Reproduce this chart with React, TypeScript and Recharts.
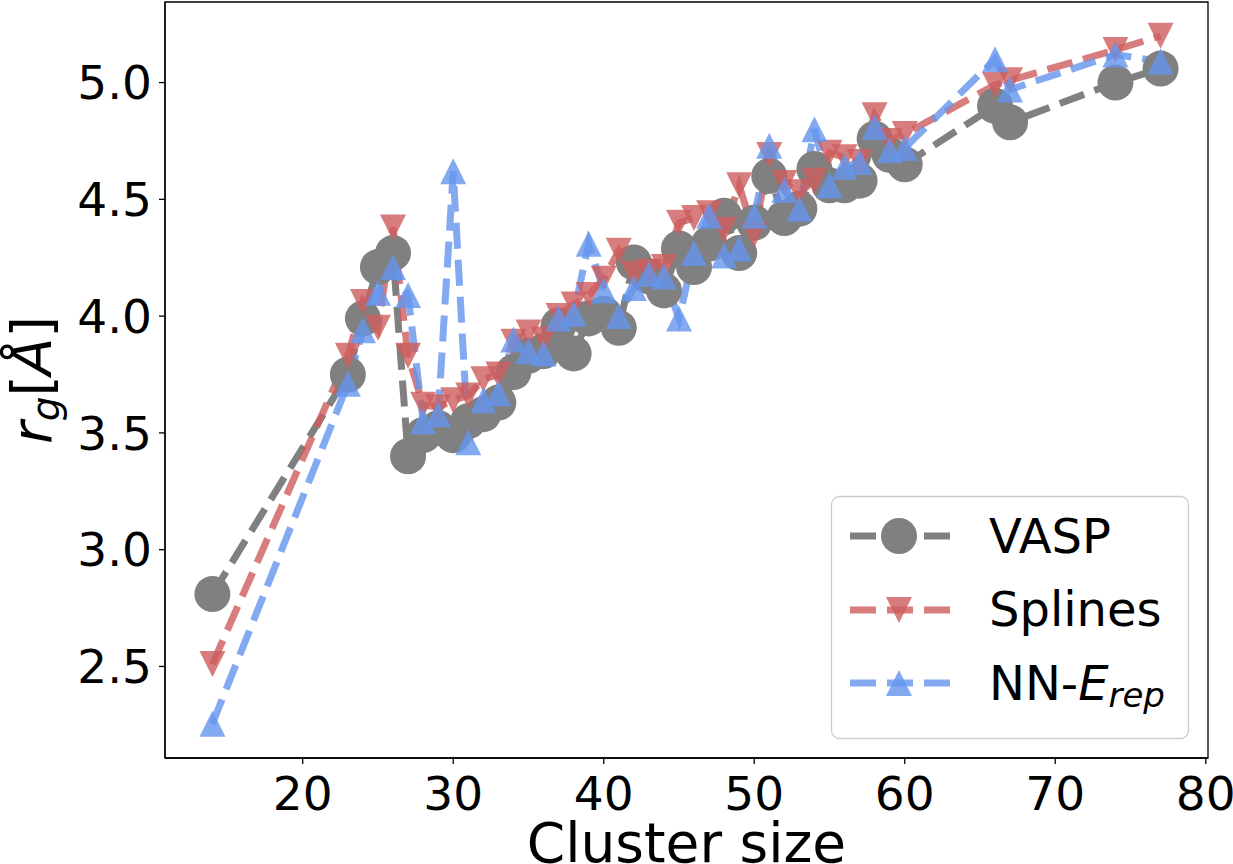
import React from 'react';
import { LineChart, Line, XAxis, YAxis, Legend, ReferenceArea, Label } from 'recharts';

const clusterSizes = [14, 23, 24, 25, 26, 27, 28, 29, 30, 31, 32, 33, 34, 35, 36, 37, 38, 39, 40, 41, 42, 43, 44, 45, 46, 47, 48, 49, 50, 51, 52, 53, 54, 55, 56, 57, 58, 59, 60, 66, 67, 74, 77];
const vaspValues = [2.81, 3.75, 3.99, 4.21, 4.27, 3.4, 3.49, 3.52, 3.49, 3.55, 3.58, 3.63, 3.76, 3.83, 3.85, 3.96, 3.84, 3.99, 4.01, 3.95, 4.23, 4.17, 4.11, 4.29, 4.21, 4.31, 4.43, 4.27, 4.4, 4.6, 4.42, 4.46, 4.63, 4.56, 4.56, 4.58, 4.76, 4.69, 4.65, 4.9, 4.83, 5.0, 5.06];
const splinesValues = [2.51, 3.83, 4.06, 3.95, 4.38, 3.83, 3.62, 3.61, 3.64, 3.66, 3.73, 3.75, 3.89, 3.93, 3.9, 4.0, 4.05, 4.09, 4.16, 4.28, 4.18, 4.19, 4.21, 4.4, 4.42, 4.44, 4.37, 4.56, 4.35, 4.69, 4.57, 4.53, 4.58, 4.7, 4.68, 4.66, 4.86, 4.75, 4.78, 4.99, 5.01, 5.14, 5.2];
const nnValues = [2.255, 3.71, 3.94, 4.1, 4.21, 4.09, 3.55, 3.58, 4.62, 3.46, 3.64, 3.67, 3.9, 3.85, 3.84, 3.99, 4.01, 4.31, 4.11, 4.0, 4.12, 4.18, 4.17, 3.99, 4.27, 4.43, 4.26, 4.29, 4.43, 4.73, 4.54, 4.46, 4.8, 4.56, 4.64, 4.66, 4.81, 4.71, 4.72, 5.1, 4.97, 5.12, 5.09];
const xTicks = [20, 30, 40, 50, 60, 70, 80];
const yTicks = [2.5, 3.0, 3.5, 4.0, 4.5, 5.0];
const xDomain = [10.85, 80.15];
const yDomain = [2.108, 5.345];

const data = clusterSizes.map((size, i) => ({
  size,
  vasp: vaspValues[i],
  splines: splinesValues[i],
  nn: nnValues[i],
}));

const FONT = '"DejaVu Sans", sans-serif';
const GRAY = '#808080';
const RED = '#cd5c5c';
const BLUE = '#6495ed';
const ALPHA = 0.8;
const DASH = '26 11';
const LW = 7;
const TRI = 13;

const triPath = (cx: number, cy: number, up: boolean) =>
  up
    ? `M${cx},${cy - TRI} L${cx + TRI},${cy + TRI} L${cx - TRI},${cy + TRI} Z`
    : `M${cx - TRI},${cy - TRI} L${cx + TRI},${cy - TRI} L${cx},${cy + TRI} Z`;

const circleDot = (props: any) => {
  const { cx, cy, index } = props;
  if (cx == null || cy == null) return <g key={`v${index}`} />;
  return <circle key={`v${index}`} cx={cx} cy={cy} r={18} fill={GRAY} />;
};
const downDot = (props: any) => {
  const { cx, cy, index } = props;
  if (cx == null || cy == null) return <g key={`s${index}`} />;
  return <path key={`s${index}`} d={triPath(cx, cy, false)} fill={RED} fillOpacity={ALPHA} />;
};
const upDot = (props: any) => {
  const { cx, cy, index } = props;
  if (cx == null || cy == null) return <g key={`n${index}`} />;
  return <path key={`n${index}`} d={triPath(cx, cy, true)} fill={BLUE} fillOpacity={ALPHA} />;
};

const legendRows = [
  { key: 'vasp', color: GRAY, opacity: 1, marker: 'circle' },
  { key: 'splines', color: RED, opacity: ALPHA, marker: 'down' },
  { key: 'nn', color: BLUE, opacity: ALPHA, marker: 'up' },
];

const renderLegend = () => {
  const rowY = [40, 114, 187];
  return (
    <svg width={359} height={244} style={{ display: 'block', overflow: 'visible' }}>
      <rect x={0.5} y={0.5} width={357} height={242} rx={8} ry={8} fill="white" fillOpacity={0.8} stroke="#cccccc" strokeWidth={1.3} />
      {legendRows.map((r, i) => {
        const y = rowY[i];
        return (
          <g key={r.key}>
            <line x1={19} y1={y} x2={119} y2={y} stroke={r.color} strokeOpacity={r.opacity} strokeWidth={LW} strokeDasharray={DASH} />
            {r.marker === 'circle' ? (
              <circle cx={68} cy={y} r={18} fill={r.color} />
            ) : (
              <path d={triPath(68, y, r.marker === 'up')} fill={r.color} fillOpacity={r.opacity} />
            )}
          </g>
        );
      })}
      <text x={158} y={56.5} fontFamily={FONT} fontSize={48} fill="black">VASP</text>
      <text x={158} y={130} fontFamily={FONT} fontSize={48} fill="black">Splines</text>
      <text x={158} y={203.5} fontFamily={FONT} fontSize={48} fill="black">
        NN-<tspan fontStyle="italic">E</tspan>
        <tspan fontStyle="italic" fontSize={34} dy={7}>rep</tspan>
      </text>
    </svg>
  );
};

const XLabel = (props: any) => {
  const vb = props.viewBox || { x: 165, y: 758, width: 1043, height: 106 };
  return (
    <text x={vb.x + vb.width / 2} y={vb.y + 104} textAnchor="middle" fontFamily={FONT} fontSize={55} fill="black">
      Cluster size
    </text>
  );
};

const YLabel = (props: any) => {
  const vb = props.viewBox || { x: 0, y: 2, width: 165, height: 756 };
  const cx = 51;
  const cy = vb.y + vb.height / 2;
  return (
    <text x={cx} y={cy} transform={`rotate(-90, ${cx}, ${cy})`} textAnchor="middle" fontFamily={FONT} fontSize={55} fill="black">
      <tspan fontStyle="italic">r</tspan>
      <tspan fontStyle="italic" fontSize={39} dy={8}>g</tspan>
      <tspan dy={-8}>[</tspan>
      <tspan fontStyle="italic">Å</tspan>
      <tspan>]</tspan>
    </text>
  );
};

export default function App() {
  return (
    <div style={{ position: 'absolute', left: 0, top: 0, fontFamily: FONT, background: 'white' }}>
      <LineChart width={1233} height={864} data={data} margin={{ top: 2, right: 25, bottom: 0, left: 0 }}>
        <XAxis
          dataKey="size"
          type="number"
          domain={xDomain}
          ticks={xTicks}
          allowDataOverflow
          height={106}
          tickSize={6}
          tickMargin={13}
          tick={{ fontSize: 47, fill: 'black', fontFamily: FONT }}
          axisLine={{ stroke: 'black', strokeWidth: 1.3 }}
          tickLine={{ stroke: 'black', strokeWidth: 1.3 }}
          label={<Label content={XLabel} />}
        />
        <YAxis
          type="number"
          domain={yDomain}
          ticks={yTicks}
          allowDataOverflow
          width={165}
          tickSize={6}
          tickMargin={7}
          tickFormatter={(v: number) => v.toFixed(1)}
          tick={{ fontSize: 47, fill: 'black', fontFamily: FONT }}
          axisLine={{ stroke: 'black', strokeWidth: 1.3 }}
          tickLine={{ stroke: 'black', strokeWidth: 1.3 }}
          label={<Label content={YLabel} />}
        />
        <ReferenceArea x1={xDomain[0]} x2={xDomain[1]} y1={yDomain[0]} y2={yDomain[1]} fill="none" fillOpacity={0} stroke="black" strokeWidth={1.3} ifOverflow="visible" />
        <Line
          type="linear"
          dataKey="vasp"
          name="VASP"
          stroke={GRAY}
          strokeWidth={LW}
          strokeDasharray={DASH}
          dot={circleDot}
          activeDot={false}
          isAnimationActive={false}
        />
        <Line
          type="linear"
          dataKey="splines"
          name="Splines"
          stroke={RED}
          strokeOpacity={ALPHA}
          strokeWidth={LW}
          strokeDasharray={DASH}
          dot={downDot}
          activeDot={false}
          isAnimationActive={false}
        />
        <Line
          type="linear"
          dataKey="nn"
          name="NN-Erep"
          stroke={BLUE}
          strokeOpacity={ALPHA}
          strokeWidth={LW}
          strokeDasharray={DASH}
          dot={upDot}
          activeDot={false}
          isAnimationActive={false}
        />
        <Legend
          layout="vertical"
          align="center"
          verticalAlign="middle"
          content={renderLegend}
          wrapperStyle={{ position: 'absolute', left: 831, top: 496, width: 359, height: 244 }}
        />
      </LineChart>
    </div>
  );
}
